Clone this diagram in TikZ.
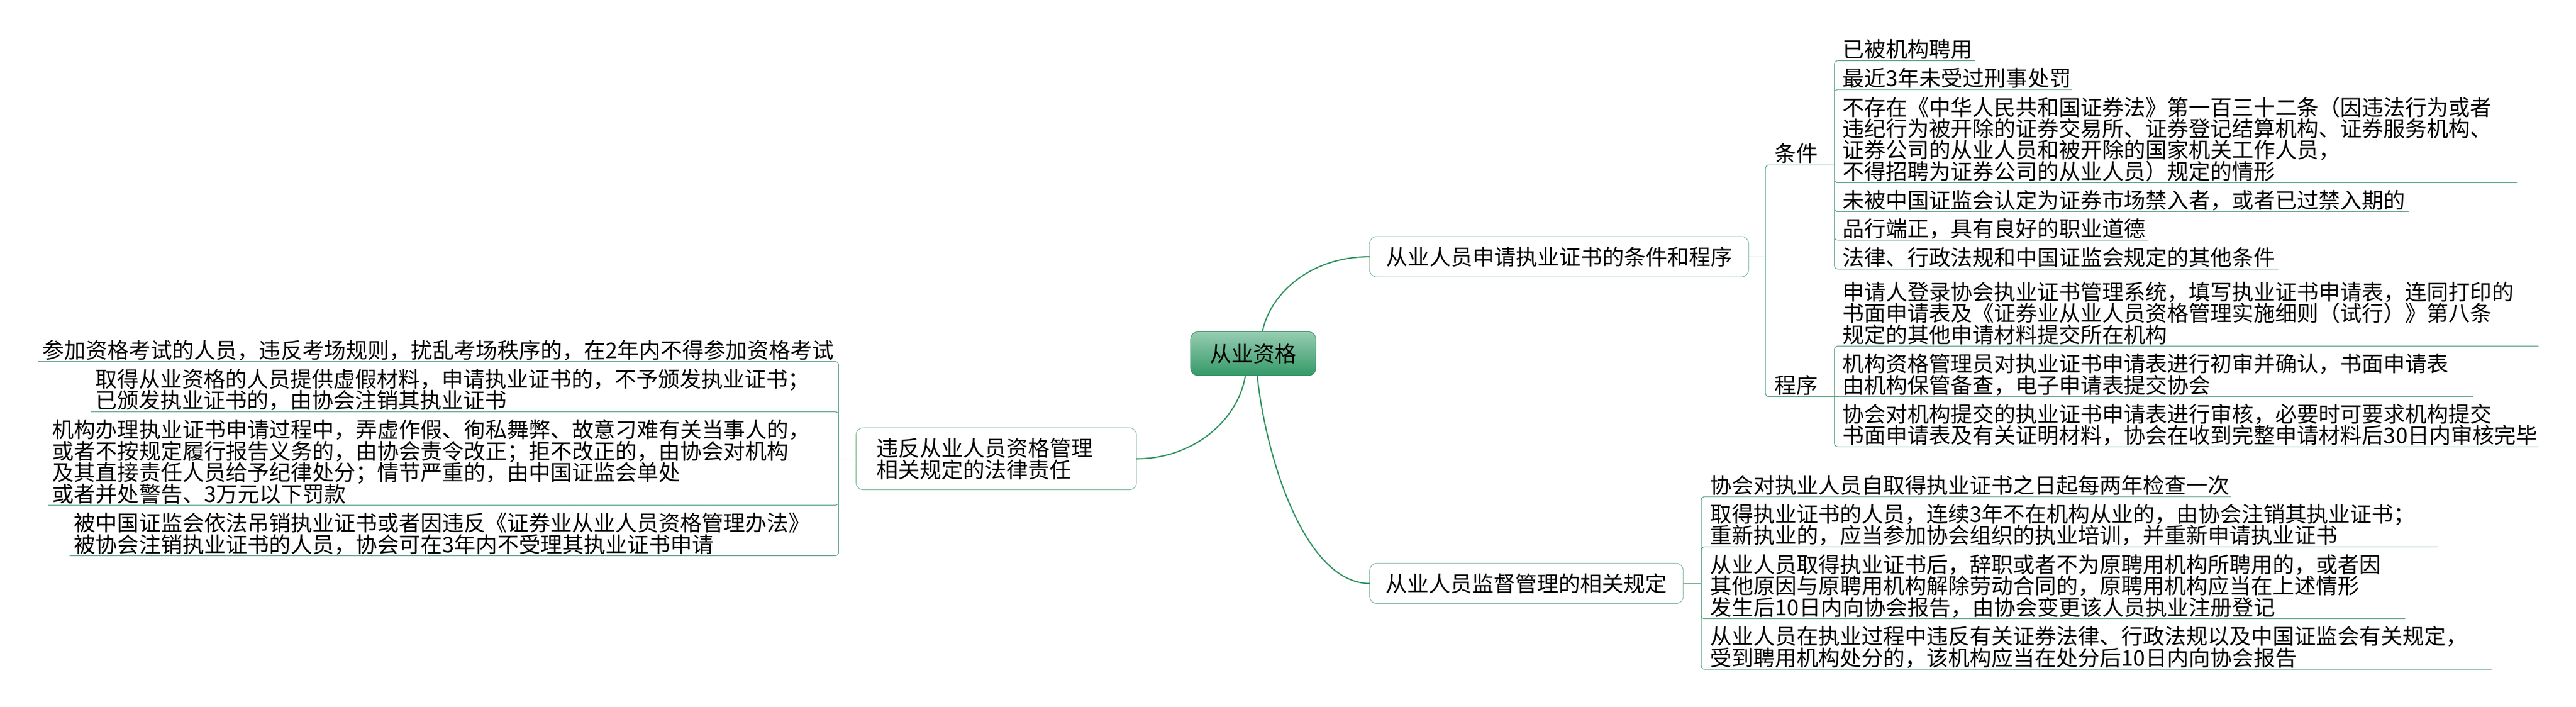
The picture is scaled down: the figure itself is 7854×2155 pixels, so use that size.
\documentclass[tikz,border=0pt]{standalone}
\usepackage{fontspec}
\newfontfamily\cjk{Noto Sans CJK SC}
\definecolor{lineg}{RGB}{62,148,108}
\definecolor{curveg}{RGB}{48,148,98}
\definecolor{boxg}{RGB}{100,172,132}
\definecolor{rootTop}{RGB}{150,205,178}
\definecolor{rootG}{RGB}{52,153,103}
\definecolor{rootB}{RGB}{60,140,100}
\newcommand\zs{\rule[-0.8pt]{0pt}{8.4pt}}
\begin{document}
\begin{tikzpicture}[x=0.1pt,y=-0.1pt,
  every node/.style={font={\cjk\fontsize{6.6pt}{6.5pt}\selectfont\lineskiplimit=-20pt\relax\lineskip=0pt\relax}, outer sep=0pt},
  rootbox/.style={draw=rootB, line width=0.15pt, rounded corners=2.3pt, top color=rootTop, middle color=rootG, bottom color=rootG, minimum width=38.2pt, minimum height=13.4pt, inner sep=0pt},
  branchbox/.style={draw=boxg, line width=0.15pt, rounded corners=2.2pt, fill=white, inner sep=0pt},
  leafR/.style={anchor=south west, inner xsep=2.5pt, inner ysep=0.2pt, align=left},
  leafL/.style={anchor=south east, inner xsep=1.4pt, inner ysep=0.2pt, align=left},
  curve/.style={draw=curveg, line width=0.38pt},
  leafline/.style={draw=lineg, line width=0.17pt},
  bracketline/.style={leafline, rounded corners=1pt}]
\fill[white] (0,0) rectangle (7854,2155);
\useasboundingbox (0,0) rectangle (7854,2155);

% root and main branches
\node[rootbox] (root) at (3821,1078) {从业资格};
\node[branchbox, minimum width=115.6pt, minimum height=12.3pt] (b1) at (4753.5,782.5) {从业人员申请执业证书的条件和程序};
\node[branchbox, text width=72.9pt, align=left, inner xsep=6.3pt, minimum height=18.9pt] (b2) at (3037.5,1398.5) {违反从业人员资格管理\\相关规定的法律责任};
\node[branchbox, minimum width=95.6pt, minimum height=12.3pt] (b3) at (4654,1778.5) {从业人员监督管理的相关规定};

% sub-branches of b1
\node[leafR, text width=15.6pt, inner xsep=2.7pt] (cond) at (5383,503) {\zs 条件};
\node[leafR, text width=15.6pt, inner xsep=2.7pt] (proc) at (5383,1209) {\zs 程序};

% conditions
\node[leafR, text width=37.8pt] (c1) at (5593,185) {\zs 已被机构聘用};
\node[leafR, text width=67.5pt] (c2) at (5593,273) {\zs 最近3年未受过刑事处罚};
\node[leafR, text width=203.1pt] (c3) at (5593,557) {\zs 不存在《中华人民共和国证券法》第一百三十二条（因违法行为或者\\\zs 违纪行为被开除的证券交易所、证券登记结算机构、证券服务机构、\\\zs 证券公司的从业人员和被开除的国家机关工作人员，\\\zs 不得招聘为证券公司的从业人员）规定的情形};
\node[leafR, text width=170.1pt] (c4) at (5593,645) {\zs 未被中国证监会认定为证券市场禁入者，或者已过禁入期的};
\node[leafR, text width=90.7pt] (c5) at (5593,732) {\zs 品行端正，具有良好的职业道德};
\node[leafR, text width=130.3pt] (c6) at (5593,820) {\zs 法律、行政法规和中国证监会规定的其他条件};

% procedure
\node[leafR, text width=209.7pt] (p1) at (5593,1055) {\zs 申请人登录协会执业证书管理系统，填写执业证书申请表，连同打印的\\\zs 书面申请表及《证券业从业人员资格管理实施细则（试行）》第八条\\\zs 规定的其他申请材料提交所在机构};
\node[leafR, text width=189.8pt] (p2) at (5593,1209) {\zs 机构资格管理员对执业证书申请表进行初审并确认，书面申请表\\\zs 由机构保管备查，电子申请表提交协会};
\node[leafR, text width=209.7pt] (p3) at (5593,1362) {\zs 协会对机构提交的执业证书申请表进行审核，必要时可要求机构提交\\\zs 书面申请表及有关证明材料，协会在收到完整申请材料后30日内审核完毕};

% supervision
\node[leafR, text width=156.1pt, inner xsep=2.7pt] (s1) at (5187,1514) {\zs 协会对执业人员自取得执业证书之日起每两年检查一次};
\node[leafR, text width=219.3pt, inner xsep=2.7pt] (s2) at (5187,1667) {\zs 取得执业证书的人员，连续3年不在机构从业的，由协会注销其执业证书；\\\zs 重新执业的，应当参加协会组织的执业培训，并重新申请执业证书};
\node[leafR, text width=209.2pt, inner xsep=2.7pt] (s3) at (5187,1886) {\zs 从业人员取得执业证书后，辞职或者不为原聘用机构所聘用的，或者因\\\zs 其他原因与原聘用机构解除劳动合同的，原聘用机构应当在上述情形\\\zs 发生后10日内向协会报告，由协会变更该人员执业注册登记};
\node[leafR, text width=235.6pt, inner xsep=2.7pt] (s4) at (5187,2040) {\zs 从业人员在执业过程中违反有关证券法律、行政法规以及中国证监会有关规定，\\\zs 受到聘用机构处分的，该机构应当在处分后10日内向协会报告};

% legal liability (left)
\node[leafL, text width=241.3pt] (l1) at (2557,1102) {\zs 参加资格考试的人员，违反考场规则，扰乱考场秩序的，在2年内不得参加资格考试};
\node[leafL, text width=225.2pt] (l2) at (2557,1255) {\zs 取得从业资格的人员提供虚假材料，申请执业证书的，不予颁发执业证书；\\\zs 已颁发执业证书的，由协会注销其执业证书};
\node[leafL, text width=238.3pt] (l3) at (2557,1540) {\zs 机构办理执业证书申请过程中，弄虚作假、徇私舞弊、故意刁难有关当事人的，\\\zs 或者不按规定履行报告义务的，由协会责令改正；拒不改正的，由协会对机构\\\zs 及其直接责任人员给予纪律处分；情节严重的，由中国证监会单处\\\zs 或者并处警告、3万元以下罚款};
\node[leafL, text width=231.7pt] (l4) at (2557,1694) {\zs 被中国证监会依法吊销执业证书或者因违反《证券业从业人员资格管理办法》\\\zs 被协会注销执业证书的人员，协会可在3年内不受理其执业证书申请};

% main curves
\draw[curve] ([xshift=2.8pt]root.north) .. controls +(21,-110) and +(-186,0) .. (b1.west);
\draw[curve] ([xshift=-2.4pt]root.south) .. controls +(-22,134) and +(176,0) .. (b2.east);
\draw[curve] ([xshift=1.2pt]root.south) .. controls +(27,254) and +(-196,0) .. (b3.west);

% b1 brackets
\coordinate (J1) at ([xshift=5.15pt]b1.east);
\draw[leafline] (b1.east) -- (J1);
\draw[bracketline] (J1) |- (cond.south east);
\draw[bracketline] (J1) |- (proc.south east);
\foreach \n in {c1,c2,c3,c4,c5,c6} \draw[bracketline] (cond.south east) |- (\n.south east);
\draw[bracketline] (proc.south east) |- (p1.south east);
\draw[leafline] (proc.south east) -- (p2.south east);
\draw[bracketline] (proc.south east) |- (p3.south east);

% b3 bracket
\coordinate (J3) at ([xshift=5.5pt]b3.east);
\draw[leafline] (b3.east) -- (J3);
\foreach \n in {s1,s2,s3,s4} \draw[bracketline] (J3) |- (\n.south east);

% b2 bracket
\coordinate (J2) at ([xshift=-5.35pt]b2.west);
\draw[leafline] (b2.west) -- (J2);
\foreach \n in {l1,l2,l3,l4} \draw[bracketline] (J2) |- (\n.south west);
\end{tikzpicture}
\end{document}
